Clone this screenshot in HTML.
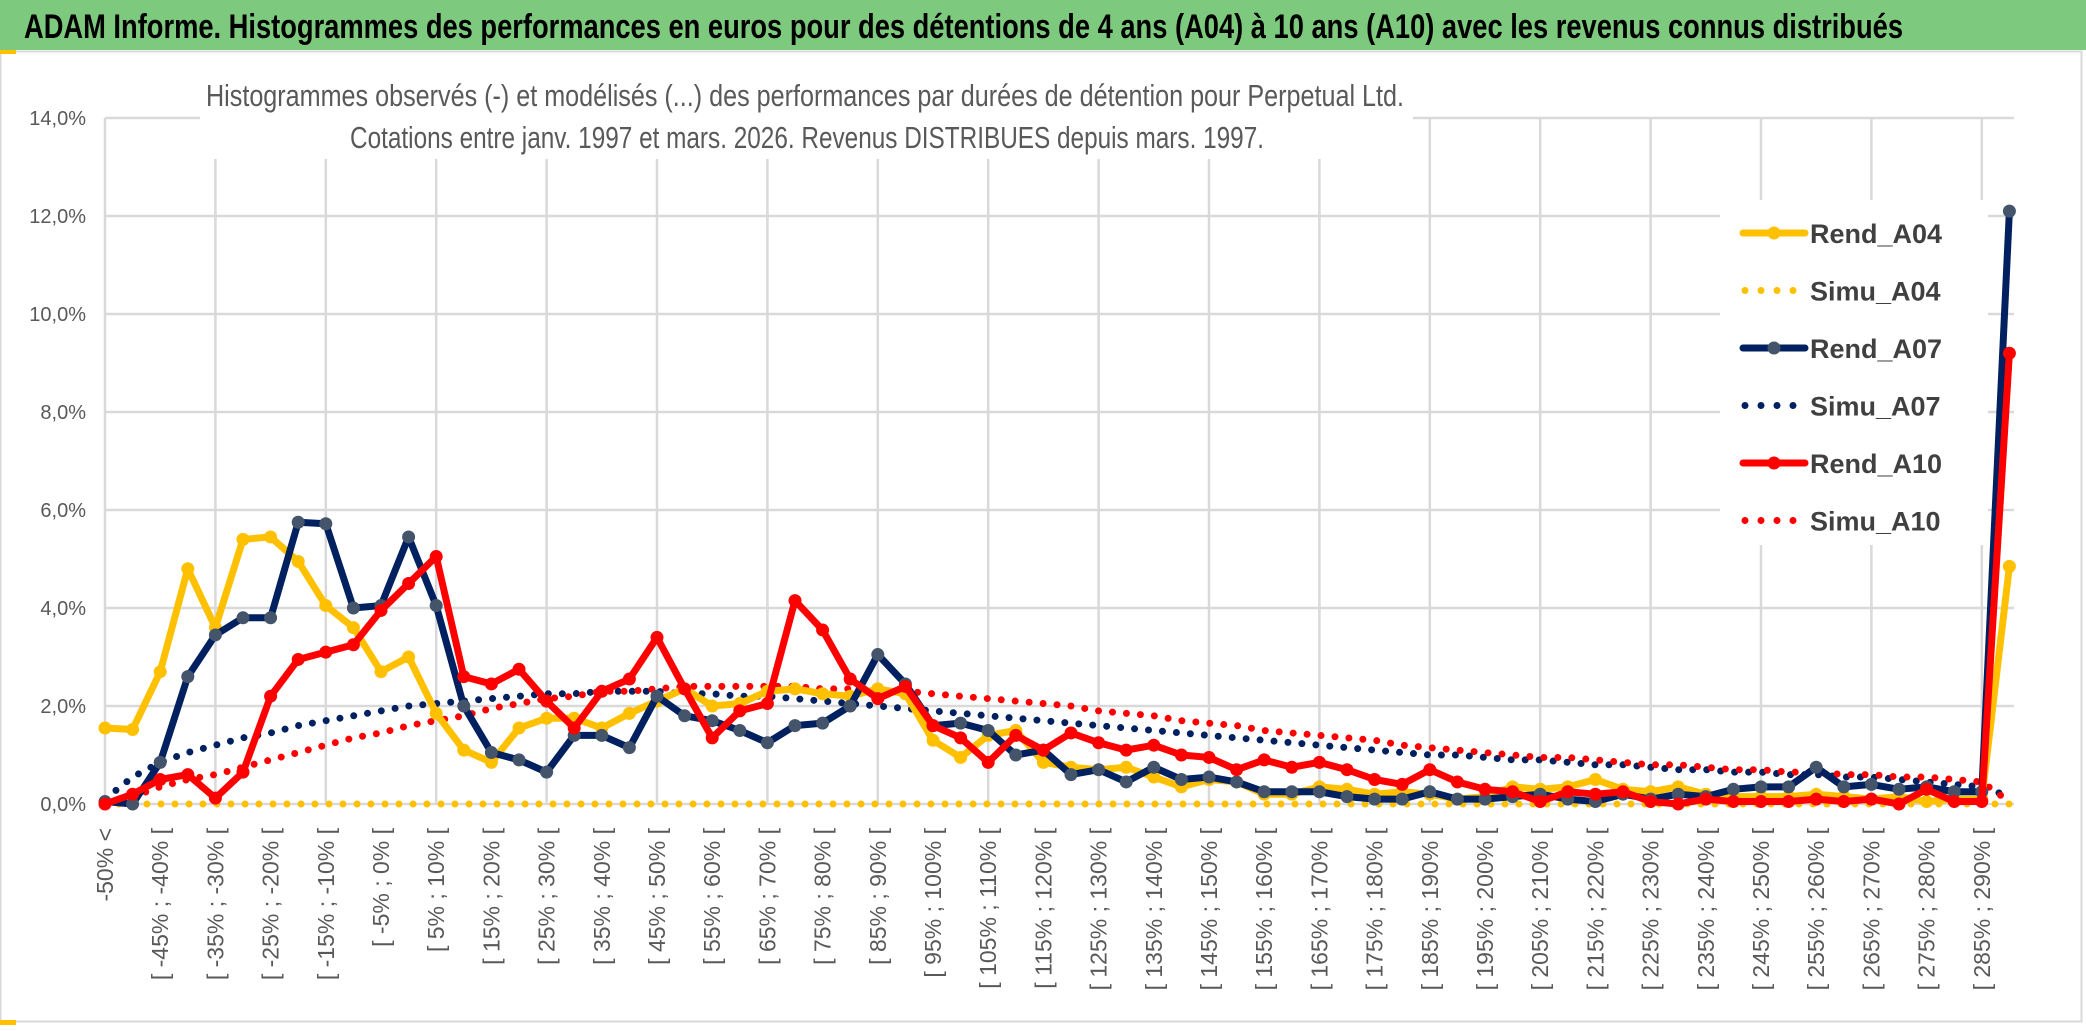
<!DOCTYPE html>
<html><head><meta charset="utf-8"><style>
html,body{margin:0;padding:0;background:#fff;}
svg{display:block;font-family:"Liberation Sans",sans-serif;}
</style></head><body>
<svg id="chart" width="2086" height="1031" viewBox="0 0 2086 1031" xmlns="http://www.w3.org/2000/svg">
<rect x="0" y="0" width="2086" height="50" fill="#7DC97D"/>
<text x="24" y="38" font-size="34" font-weight="bold" fill="#000" textLength="1879" lengthAdjust="spacingAndGlyphs">ADAM Informe. Histogrammes des performances en euros pour des détentions de 4 ans (A04) à 10 ans (A10) avec les revenus connus distribués</text>
<rect x="0.5" y="51.5" width="2081" height="970" fill="#fff" stroke="#D9D9D9" stroke-width="2"/>
<rect x="0" y="50" width="16" height="4" fill="#FFC000"/>
<rect x="0" y="1020" width="16" height="5" fill="#FFC000"/>
<g id="grid"></g>
<g id="yaxis"></g>
<g id="xaxis"></g>
<rect x="200" y="70" width="1213" height="89" fill="#fff"/>
<text x="206" y="106" font-size="31" fill="#595959" textLength="1198" lengthAdjust="spacingAndGlyphs">Histogrammes observés (-) et modélisés (...) des performances par durées de détention pour Perpetual Ltd.</text>
<text x="350" y="148" font-size="31" fill="#595959" textLength="914" lengthAdjust="spacingAndGlyphs">Cotations entre janv. 1997 et mars. 2026. Revenus DISTRIBUES depuis mars. 1997.</text>
<g id="series"></g>
<rect x="1720" y="200" width="268" height="345" fill="#fff"/>
<g id="legend"></g>
</svg>
<script>
const categories = ["-50% <","[ -50% ; -45% [","[ -45% ; -40% [","[ -40% ; -35% [","[ -35% ; -30% [","[ -30% ; -25% [","[ -25% ; -20% [","[ -20% ; -15% [","[ -15% ; -10% [","[ -10% ; -5% [","[ -5% ; 0% [","[ 0% ; 5% [","[ 5% ; 10% [","[ 10% ; 15% [","[ 15% ; 20% [","[ 20% ; 25% [","[ 25% ; 30% [","[ 30% ; 35% [","[ 35% ; 40% [","[ 40% ; 45% [","[ 45% ; 50% [","[ 50% ; 55% [","[ 55% ; 60% [","[ 60% ; 65% [","[ 65% ; 70% [","[ 70% ; 75% [","[ 75% ; 80% [","[ 80% ; 85% [","[ 85% ; 90% [","[ 90% ; 95% [","[ 95% ; 100% [","[ 100% ; 105% [","[ 105% ; 110% [","[ 110% ; 115% [","[ 115% ; 120% [","[ 120% ; 125% [","[ 125% ; 130% [","[ 130% ; 135% [","[ 135% ; 140% [","[ 140% ; 145% [","[ 145% ; 150% [","[ 150% ; 155% [","[ 155% ; 160% [","[ 160% ; 165% [","[ 165% ; 170% [","[ 170% ; 175% [","[ 175% ; 180% [","[ 180% ; 185% [","[ 185% ; 190% [","[ 190% ; 195% [","[ 195% ; 200% [","[ 200% ; 205% [","[ 205% ; 210% [","[ 210% ; 215% [","[ 215% ; 220% [","[ 220% ; 225% [","[ 225% ; 230% [","[ 230% ; 235% [","[ 235% ; 240% [","[ 240% ; 245% [","[ 245% ; 250% [","[ 250% ; 255% [","[ 255% ; 260% [","[ 260% ; 265% [","[ 265% ; 270% [","[ 270% ; 275% [","[ 275% ; 280% [","[ 280% ; 285% [","[ 285% ; 290% [","290% >="];
const yTicks = [0,2,4,6,8,10,12,14];
const yTickLabels = ["0,0%","2,0%","4,0%","6,0%","8,0%","10,0%","12,0%","14,0%"];
const rendA04 = [1.55,1.52,2.7,4.8,3.6,5.4,5.45,4.95,4.05,3.6,2.7,3.0,1.85,1.1,0.85,1.55,1.75,1.75,1.55,1.85,2.1,2.35,2.0,2.05,2.3,2.35,2.25,2.2,2.35,2.25,1.3,0.95,1.4,1.5,0.85,0.75,0.7,0.75,0.55,0.35,0.5,0.45,0.2,0.2,0.35,0.3,0.2,0.25,0.2,0.1,0.15,0.35,0.3,0.35,0.5,0.3,0.25,0.35,0.2,0.15,0.15,0.15,0.2,0.15,0.1,0.15,0.05,0.1,0.1,4.85];
const simuA04 = [0,0,0,0,0,0,0,0,0,0,0,0,0,0,0,0,0,0,0,0,0,0,0,0,0,0,0,0,0,0,0,0,0,0,0,0,0,0,0,0,0,0,0,0,0,0,0,0,0,0,0,0,0,0,0,0,0,0,0,0,0,0,0,0,0,0,0,0,0,0];
const rendA07 = [0.05,0.0,0.85,2.6,3.45,3.8,3.8,5.75,5.72,4.0,4.05,5.45,4.05,2.0,1.05,0.9,0.65,1.4,1.4,1.15,2.2,1.8,1.7,1.5,1.25,1.6,1.65,2.0,3.05,2.45,1.6,1.65,1.5,1.0,1.1,0.6,0.7,0.45,0.75,0.5,0.55,0.45,0.25,0.25,0.25,0.15,0.1,0.1,0.25,0.1,0.1,0.15,0.2,0.1,0.05,0.2,0.1,0.2,0.15,0.3,0.35,0.35,0.75,0.35,0.4,0.3,0.35,0.25,0.25,12.1];
const simuA07 = [0.1,0.55,0.85,1.05,1.2,1.35,1.45,1.6,1.7,1.8,1.9,2.0,2.05,2.1,2.15,2.2,2.25,2.25,2.3,2.3,2.3,2.25,2.25,2.2,2.2,2.15,2.1,2.05,2.0,1.95,1.9,1.85,1.8,1.75,1.7,1.65,1.6,1.55,1.5,1.45,1.4,1.35,1.3,1.25,1.2,1.15,1.1,1.05,1.0,1.0,0.95,0.9,0.9,0.85,0.8,0.8,0.75,0.7,0.7,0.65,0.65,0.6,0.6,0.55,0.55,0.5,0.45,0.4,0.35,0.15];
const rendA10 = [0.0,0.2,0.5,0.6,0.12,0.65,2.2,2.95,3.1,3.25,3.95,4.5,5.05,2.6,2.45,2.75,2.1,1.55,2.3,2.55,3.4,2.35,1.35,1.9,2.05,4.15,3.55,2.55,2.15,2.4,1.6,1.35,0.85,1.4,1.1,1.45,1.25,1.1,1.2,1.0,0.95,0.7,0.9,0.75,0.85,0.7,0.5,0.4,0.7,0.45,0.3,0.25,0.05,0.25,0.2,0.25,0.05,0.0,0.1,0.05,0.05,0.05,0.1,0.05,0.1,0.0,0.3,0.05,0.05,9.2];
const simuA10 = [0.05,0.15,0.35,0.5,0.6,0.75,0.9,1.05,1.2,1.35,1.45,1.6,1.7,1.8,1.95,2.05,2.15,2.2,2.3,2.3,2.35,2.4,2.4,2.4,2.4,2.4,2.35,2.35,2.3,2.3,2.25,2.2,2.15,2.1,2.05,2.0,1.9,1.85,1.8,1.7,1.65,1.6,1.5,1.45,1.4,1.35,1.3,1.2,1.15,1.1,1.05,1.0,0.95,0.95,0.9,0.85,0.8,0.8,0.75,0.7,0.7,0.65,0.65,0.6,0.6,0.55,0.55,0.5,0.45,0.05];

const NS="http://www.w3.org/2000/svg";
const X0=105, DX=27.6, Y0=804, PPU=49, XR=2014;
function xs(i){return X0+i*DX;}
function ys(v){return Y0-v*PPU;}
function mk(tag,attrs,parent){const e=document.createElementNS(NS,tag);for(const k in attrs)e.setAttribute(k,attrs[k]);parent.appendChild(e);return e;}

const grid=document.getElementById('grid');
yTicks.forEach((t,i)=>{
  const l=mk('line',{x1:X0,x2:XR,y1:ys(t),y2:ys(t),stroke:'#D9D9D9','stroke-width':2.5},grid);
  
  
});
for(let i=0;i<categories.length;i+=4){
  const l=mk('line',{x1:xs(i),x2:xs(i),y1:ys(14),y2:ys(0),stroke:'#D9D9D9','stroke-width':2.5},grid);
  
  
}
const yaxis=document.getElementById('yaxis');
yTicks.forEach((t,i)=>{
  const tx=mk('text',{x:86,y:ys(t)+7,'text-anchor':'end','font-size':20,fill:'#595959'},yaxis);
  tx.textContent=yTickLabels[i];
  
  
});
const xaxis=document.getElementById('xaxis');
categories.forEach((c,i)=>{
  if(i%2!==0)return;
  const x=xs(i)+8,y=828;
  const tx=mk('text',{x:x,y:y,'text-anchor':'end','font-size':23,fill:'#595959',transform:`rotate(-90 ${x} ${y})`},xaxis);
  tx.textContent=c;
  
  
});

const series=document.getElementById('series');
function pts(arr){return arr.map((v,i)=>xs(i)+','+ys(v)).join(' ');}
function dotted(arr,color,name){
  const p=mk('polyline',{points:pts(arr),fill:'none',stroke:color,'stroke-width':7,'stroke-dasharray':'0 14','stroke-linecap':'round','stroke-linejoin':'round'},series);
  
  
}
function solid(arr,color,mcolor,name){
  const g=mk('g',{},series);
  
  
  const p=mk('polyline',{points:pts(arr),fill:'none',stroke:color,'stroke-width':7,'stroke-linejoin':'round'},g);
  
  
  arr.forEach((v,i)=>{
    const c=mk('circle',{cx:xs(i),cy:ys(v),r:6.5,fill:mcolor},g);
    
    
  });
}
dotted(simuA04,'#FFC000','simu-a04');
dotted(simuA07,'#002060','simu-a07');
dotted(simuA10,'#FF0000','simu-a10');
solid(rendA04,'#FFC000','#FFC000','rend-a04');
solid(rendA07,'#002060','#44546A','rend-a07');
solid(rendA10,'#FF0000','#FF0000','rend-a10');

const legendItems=[["Rend_A04","#FFC000","#FFC000",false],["Simu_A04","#FFC000",null,true],["Rend_A07","#002060","#44546A",false],["Simu_A07","#002060",null,true],["Rend_A10","#FF0000","#FF0000",false],["Simu_A10","#FF0000",null,true]];
const legend=document.getElementById('legend');
legendItems.forEach((it,i)=>{
  const y=233+i*57.5;
  const g=mk('g',{},legend);
  
  
  if(it[3]){
    mk('line',{x1:1745,x2:1803,y1:y,y2:y,stroke:it[1],'stroke-width':7,'stroke-dasharray':'0 16','stroke-linecap':'round'},g);
  }else{
    mk('line',{x1:1743,x2:1805,y1:y,y2:y,stroke:it[1],'stroke-width':7,'stroke-linecap':'round'},g);
    mk('circle',{cx:1774,cy:y,r:6.5,fill:it[2]},g);
  }
  const t=mk('text',{x:1810,y:y+10,'font-size':27,'font-weight':'bold',fill:'#404040'},g);
  t.textContent=it[0];
});
</script>
</body></html>
